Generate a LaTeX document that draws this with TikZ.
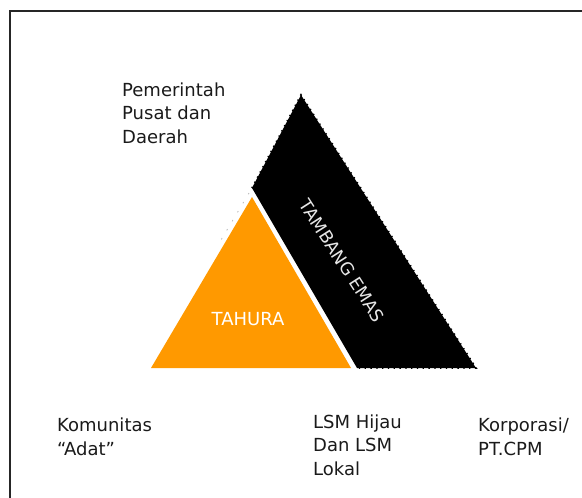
\documentclass[tikz,border=0pt]{standalone}
\usepackage{fontspec}
\setmainfont{DejaVu Sans}
\definecolor{txtcol}{HTML}{1A1A1A}
\definecolor{tahura}{HTML}{FF9900}
\definecolor{minetxt}{HTML}{E6E6E6}
\begin{document}
\begin{tikzpicture}[x=1pt,y=-1pt,
  lbl/.style={font=\fontsize{18}{23.5}\selectfont, align=left, inner sep=0pt, anchor=base west, text=txtcol},
  jagged/.style={draw=black, line width=1.8pt, dash pattern=on 1.3pt off 4.5pt},
  frameline/.style={draw=black!85, line width=1.8pt}
]
\useasboundingbox (0,0) rectangle (582,498);
% frame (top and left edges visible)
\coordinate (fr) at (590,11);
\coordinate (fc) at (10,11);
\coordinate (fb) at (10,505);
\draw[frameline] (fr) -- (fc) -- (fb);

% mine (black trapezoid)
\coordinate (mA) at (301,95);
\coordinate (mR) at (476,368);
\coordinate (mB) at (357,368);
\coordinate (mL) at (252,188);
\fill[black] (mL) -- (mA) -- (mR) -- (mB) -- cycle;
\draw[jagged] (mL) -- (mA) -- (mR) -- (mB);

% faint cut edge
\coordinate (cA) at (249,193);
\coordinate (cB) at (221,240);
\draw[gray!55, line width=0.8pt, dash pattern=on 1.5pt off 9pt] (cA) -- (cB);

% tahura (orange triangle)
\coordinate (tL) at (151,368);
\coordinate (tA) at (252,197);
\coordinate (tR) at (351,368);
\fill[tahura] (tL) -- (tA) -- (tR) -- cycle;

\node[font=\fontsize{18}{20}\selectfont, text=white, inner sep=0pt] (tahuralbl) at (248,319) {TAHURA};
\node[font=\fontsize{17.5}{20}\selectfont, text=minetxt, inner sep=0pt, rotate=-57.3] (minelbl) at (342,261) {TAMBANG EMAS};

\node[lbl] (gov) at (122,143) {Pemerintah\\Pusat dan\\Daerah};
\node[lbl] (adat) at (57,455) {Komunitas\\“Adat”};
\node[lbl] (lsm) at (313,475) {LSM Hijau\\Dan LSM\\Lokal};
\node[lbl] (corp) at (478,455) {Korporasi/\\PT.CPM};
\end{tikzpicture}
\end{document}
